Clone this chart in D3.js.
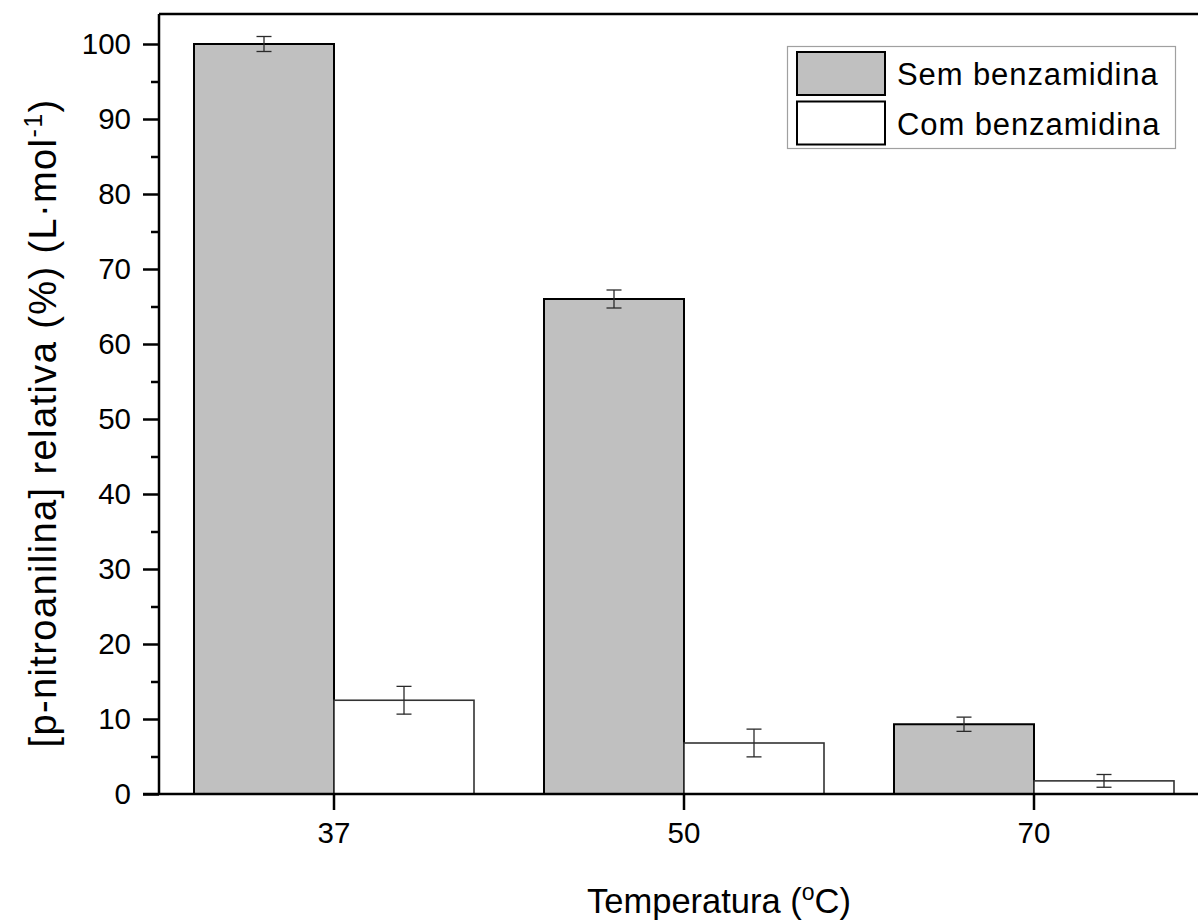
<!DOCTYPE html>
<html>
<head>
<meta charset="utf-8">
<script src="https://cdn.jsdelivr.net/npm/d3@7"></script>
<style>
  body { margin: 0; background: #fff; }
  svg { display: block; font-family: "Liberation Sans", Arial, sans-serif; }
</style>
</head>
<body>
<svg id="chart"></svg>
<script>
// chart data
var categories = ["37", "50", "70"];
var seriesNames = ["Sem benzamidina", "Com benzamidina"];
var semValues = [100, 66, 9.3];
var semErrors = [1.0, 1.2, 0.95];
var comValues = [12.5, 6.8, 1.75];
var comErrors = [1.85, 1.85, 0.85];
var yMajorTicks = [0, 10, 20, 30, 40, 50, 60, 70, 80, 90, 100];
var yMinorTicks = [5, 15, 25, 35, 45, 55, 65, 75, 85, 95];

var width = 1198, height = 922;
var plotLeft = 159, plotRight = 1209, plotTop = 14, plotBottom = 794;

var svg = d3.select("#chart").attr("width", width).attr("height", height);

var fills = { "Sem benzamidina": "#c0c0c0", "Com benzamidina": "#ffffff" };
var strokes = { "Sem benzamidina": "#000", "Com benzamidina": "#333" };

// scales
var x0 = d3.scaleBand().domain(categories).range([plotLeft, plotRight]).padding(0);
var x1 = d3.scaleBand().domain(seriesNames).range([0, x0.bandwidth()])
  .paddingInner(0).paddingOuter(0.25);
var y = d3.scaleLinear().domain([0, 104]).range([plotBottom, plotTop]);

// build rows for bars
var rows = [];
categories.forEach(function(c, i) {
  rows.push({ cat: c, series: seriesNames[0], value: semValues[i], err: semErrors[i] });
  rows.push({ cat: c, series: seriesNames[1], value: comValues[i], err: comErrors[i] });
});

function barMid(d) { return x0(d.cat) + x1(d.series) + x1.bandwidth() / 2; }

// bars
svg.selectAll(".bar")
  .data(rows)
  .enter().append("rect")
  .attr("class", "bar")
  .attr("x", function(d) { return x0(d.cat) + x1(d.series); })
  .attr("y", function(d) { return y(d.value); })
  .attr("width", x1.bandwidth())
  .attr("height", function(d) { return y(0) - y(d.value); })
  .attr("fill", function(d) { return fills[d.series]; })
  .attr("stroke", function(d) { return strokes[d.series]; })
  .attr("stroke-width", function(d) { return d.series === seriesNames[0] ? 2 : 1.6; });

// error bars
var capHalf = 7.5;
var eb = svg.selectAll(".err")
  .data(rows)
  .enter().append("g")
  .attr("class", "err")
  .attr("stroke", "#2a2a2a")
  .attr("stroke-width", 1.3);

eb.append("line")
  .attr("x1", barMid)
  .attr("x2", barMid)
  .attr("y1", function(d) { return y(d.value + d.err); })
  .attr("y2", function(d) { return y(d.value - d.err); });

eb.append("line")
  .attr("x1", function(d) { return barMid(d) - capHalf; })
  .attr("x2", function(d) { return barMid(d) + capHalf; })
  .attr("y1", function(d) { return y(d.value + d.err); })
  .attr("y2", function(d) { return y(d.value + d.err); });

eb.append("line")
  .attr("x1", function(d) { return barMid(d) - capHalf; })
  .attr("x2", function(d) { return barMid(d) + capHalf; })
  .attr("y1", function(d) { return y(d.value - d.err); })
  .attr("y2", function(d) { return y(d.value - d.err); });

// frame (top and right, right side falls outside the picture)
svg.append("path")
  .attr("d", "M" + plotLeft + "," + plotTop + "H" + plotRight + "V" + plotBottom)
  .attr("fill", "none")
  .attr("stroke", "#000")
  .attr("stroke-width", 2.5);

// y axis
var yAxis = svg.append("g")
  .attr("transform", "translate(" + plotLeft + ",0)")
  .call(d3.axisLeft(y).tickValues(yMajorTicks).tickSize(16).tickPadding(12));
svg.append("g")
  .attr("transform", "translate(" + plotLeft + ",0)")
  .call(d3.axisLeft(y).tickValues(yMinorTicks).tickSize(8).tickFormat(""))
  .call(function(g) { g.select(".domain").remove(); });

// x axis
var xAxis = svg.append("g")
  .attr("transform", "translate(0," + plotBottom + ")")
  .call(d3.axisBottom(x0).tickSize(16).tickSizeOuter(0).tickPadding(12));

svg.selectAll(".tick line, .domain").attr("stroke", "#000").attr("stroke-width", 2.5);
svg.selectAll(".tick text")
  .attr("font-size", 29.5)
  .attr("fill", "#000")
  .attr("font-family", "Liberation Sans, Arial, sans-serif");
yAxis.select(".domain").attr("d", "M0," + plotBottom + "V" + plotTop);
xAxis.select(".domain").attr("d", "M" + (plotLeft - 16) + ",0H" + plotRight);

// axis titles
var xTitle = svg.append("text")
  .attr("x", 719)
  .attr("y", 913)
  .attr("text-anchor", "middle")
  .attr("font-size", 34.5)
  .attr("fill", "#000");
xTitle.append("tspan").text("Temperatura (");
xTitle.append("tspan").attr("dy", -13).attr("font-size", 23).text("o");
xTitle.append("tspan").attr("dy", 13).text("C)");

var yTitle = svg.append("text")
  .attr("transform", "translate(56,423) rotate(-90)")
  .attr("text-anchor", "middle")
  .attr("font-size", 38)
  .attr("letter-spacing", 1.4)
  .attr("fill", "#000");
yTitle.append("tspan").text("[p-nitroanilina] relativa (%) (L\u00b7mol");
yTitle.append("tspan").attr("dy", -14).attr("font-size", 25).text("-1");
yTitle.append("tspan").attr("dy", 14).text(")");

// legend
var legend = svg.append("g");
legend.append("rect")
  .attr("x", 787.5).attr("y", 46.5)
  .attr("width", 388).attr("height", 102)
  .attr("fill", "#fff")
  .attr("stroke", "#a0a0a0")
  .attr("stroke-width", 1.2);

var legendItems = legend.selectAll(".item")
  .data(seriesNames)
  .enter().append("g")
  .attr("class", "item")
  .attr("transform", function(d, i) { return "translate(0," + (i * 49.5) + ")"; });

legendItems.append("rect")
  .attr("x", 797).attr("y", 52)
  .attr("width", 88).attr("height", 43)
  .attr("fill", function(d) { return fills[d]; })
  .attr("stroke", "#000")
  .attr("stroke-width", 2);

legendItems.append("text")
  .attr("x", 897).attr("y", 85)
  .attr("font-size", 31)
  .attr("letter-spacing", 0.9)
  .attr("fill", "#000")
  .text(function(d) { return d; });
</script>
</body>
</html>
